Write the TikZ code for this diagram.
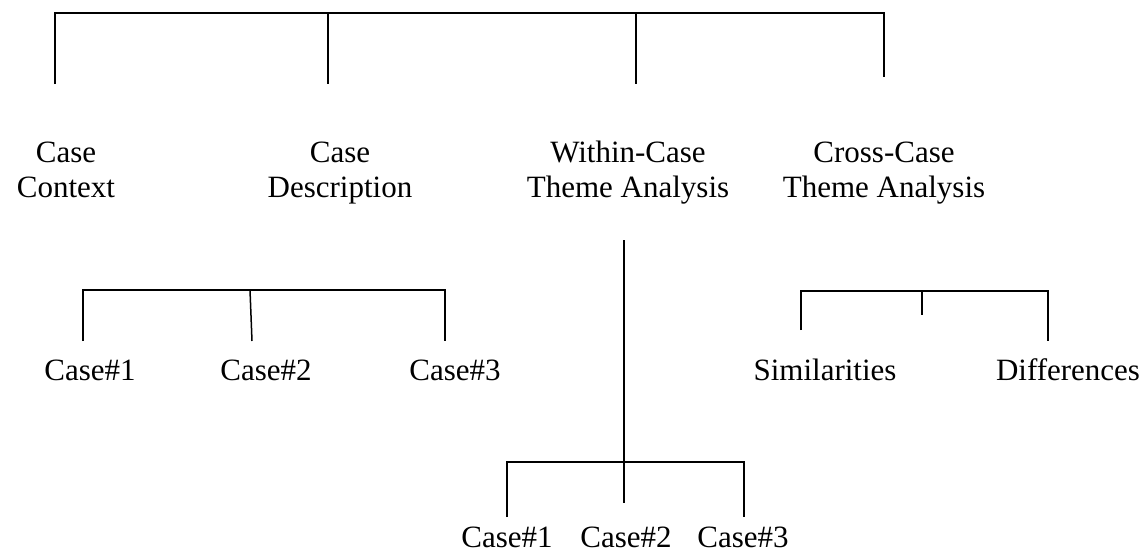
\documentclass[tikz,border=0pt]{standalone}
\usepackage{fontspec}
\setmainfont{Liberation Serif}
\begin{document}
\begin{tikzpicture}[x=1pt,y=-1pt,
  lbl/.style={font=\fontsize{31}{35}\selectfont, inner sep=0pt, align=center, anchor=base},
  ln/.style={line width=1.5pt, black}]
\useasboundingbox[fill=white] (0,0) rectangle (1147,554);
% top bracket
\coordinate (tA) at (55,13);
\coordinate (tD) at (884,13);
\coordinate (tAe) at (55,84);
\coordinate (tB) at (328,13);
\coordinate (tBe) at (328,84);
\coordinate (tC) at (636,13);
\coordinate (tCe) at (636,84);
\coordinate (tDe) at (884,77);
\draw[ln] (tAe) -- (tA) -- (tD) -- (tDe);
\draw[ln] (tB) -- (tBe);
\draw[ln] (tC) -- (tCe);
% level 1 labels
\node[lbl] (cc) at (66,197) {Case\\Context};
\node[lbl] (cd) at (340,197) {Case\\Description};
\node[lbl] (wc) at (628,197) {Within-Case\\Theme Analysis};
\node[lbl] (xc) at (884,197) {Cross-Case\\Theme Analysis};
% left sub bracket
\coordinate (lA) at (83,290);
\coordinate (lAe) at (83,341);
\coordinate (lB) at (250,290);
\coordinate (lBe) at (252,341);
\coordinate (lC) at (445,290);
\coordinate (lCe) at (445,341);
\draw[ln] (lAe) -- (lA) -- (lC) -- (lCe);
\draw[ln] (lB) -- (lBe);
\node[lbl] (l1) at (90,380) {Case\#1};
\node[lbl] (l2) at (266,380) {Case\#2};
\node[lbl] (l3) at (455,380) {Case\#3};
% right sub bracket
\coordinate (rA) at (801,291);
\coordinate (rAe) at (801,330);
\coordinate (rB) at (922,291);
\coordinate (rBe) at (922,315);
\coordinate (rC) at (1048,291);
\coordinate (rCe) at (1048,341);
\draw[ln] (rAe) -- (rA) -- (rC) -- (rCe);
\draw[ln] (rB) -- (rBe);
\node[lbl] (sim) at (825,380) {Similarities};
\node[lbl] (dif) at (1068,380) {Differences};
% within-case sub tree
\coordinate (wT) at (624,240);
\coordinate (wM) at (624,462);
\coordinate (wE) at (624,503);
\coordinate (bA) at (507,462);
\coordinate (bAe) at (507,517);
\coordinate (bC) at (744,462);
\coordinate (bCe) at (744,517);
\draw[ln] (wT) -- (wE);
\draw[ln] (bAe) -- (bA) -- (bC) -- (bCe);
\node[lbl] (b1) at (507,547) {Case\#1};
\node[lbl] (b2) at (626,547) {Case\#2};
\node[lbl] (b3) at (743,547) {Case\#3};
\end{tikzpicture}
\end{document}
